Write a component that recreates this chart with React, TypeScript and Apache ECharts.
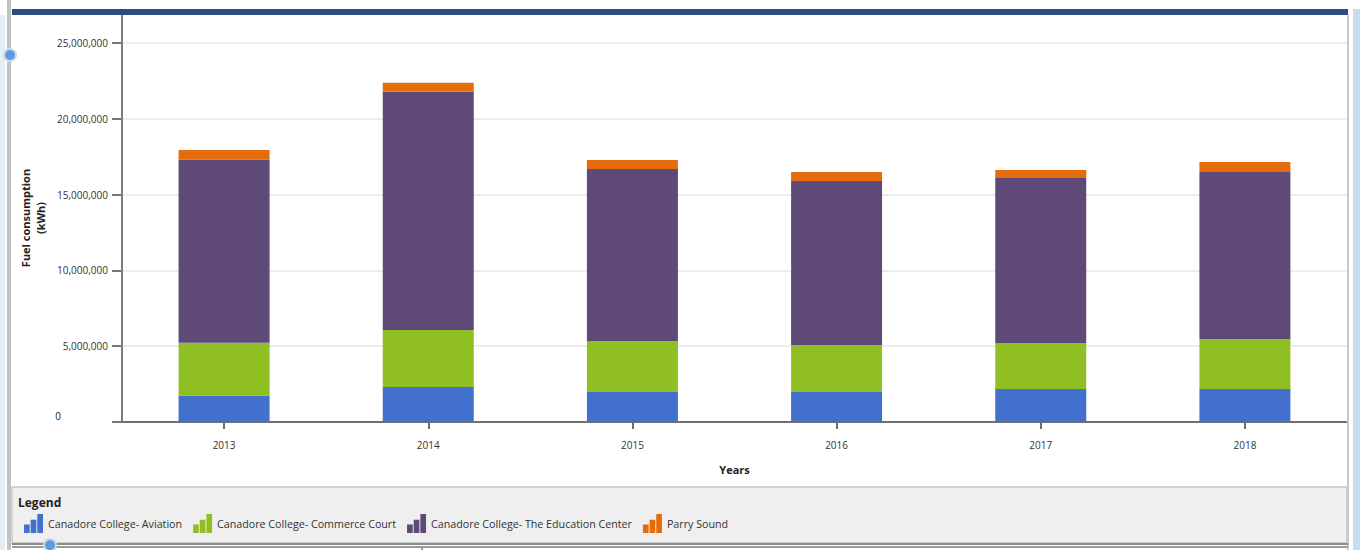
import React, { useEffect, useRef } from "react";
import * as echarts from "echarts";

const years = ["2013", "2014", "2015", "2016", "2017", "2018"];
const aviation = [1730000, 2310000, 1980000, 1980000, 2180000, 2180000];
const commerceCourt = [3500000, 3760000, 3360000, 3100000, 3030000, 3290000];
const educationCenter = [12080000, 15720000, 11350000, 10820000, 10880000, 11020000];
const parrySound = [630000, 590000, 590000, 590000, 530000, 660000];

const seriesNames = [
  "Canadore College- Aviation",
  "Canadore College- Commerce Court",
  "Canadore College- The Education Center",
  "Parry Sound",
];
const seriesColors = ["#4270cd", "#90bf24", "#5e4978", "#e46c0a"];

const FONT = "'Open Sans', 'Noto Sans', sans-serif";
const barIcon = "path://M0,11 h6 v9 h-6 Z M7,6 h6 v14 h-6 Z M14,0 h6 v20 h-6 Z";

export default function App() {
  const ref = useRef<HTMLDivElement>(null);
  useEffect(() => {
    document.body.style.margin = "0";
    const chart = echarts.init(ref.current!, null, { renderer: "svg" });
    const dataSets = [aviation, commerceCourt, educationCenter, parrySound];
    chart.setOption({
      animation: false,
      backgroundColor: "#ffffff",
      textStyle: { fontFamily: FONT },
      grid: { left: 122, right: 13, top: 43, bottom: 128, containLabel: false },
      legend: {
        left: 24,
        top: 514,
        padding: 0,
        itemWidth: 19,
        itemHeight: 19,
        itemGap: 11,
        icon: barIcon,
        z: 10,
        textStyle: { fontSize: 10.7, color: "#333", fontFamily: FONT },
        data: seriesNames,
      },
      xAxis: {
        type: "category",
        data: years,
        name: "Years",
        nameLocation: "middle",
        nameGap: 42,
        nameTextStyle: { fontWeight: "bold", fontSize: 11, color: "#222", fontFamily: FONT },
        axisLine: { show: true, lineStyle: { color: "#707070", width: 2 } },
        axisTick: { show: true, alignWithLabel: true, length: 7, lineStyle: { color: "#707070", width: 2 } },
        axisLabel: { fontSize: 10, color: "#333", margin: 18, fontFamily: FONT },
      },
      yAxis: {
        type: "value",
        min: 0,
        max: 25000000,
        interval: 5000000,
        axisLine: { show: false },
        axisTick: { show: true, length: 10, lineStyle: { color: "#777", width: 2 } },
        splitLine: { show: true, lineStyle: { color: "#e6e6e6", width: 1.5 } },
        axisLabel: {
          fontSize: 10,
          color: "#333333",
          margin: 14,
          fontFamily: FONT,
          formatter: (v: number) =>
            v === 0 ? "{z|0}" : v.toLocaleString("en-US"),
          rich: { z: { fontSize: 10, color: "#222222", padding: [0, 47, 12, 0], fontFamily: FONT } },
        },
      },
      series: dataSets.map((d, i) => ({
        name: seriesNames[i],
        type: "bar",
        stack: "total",
        barWidth: 91,
        data: d,
        itemStyle: { color: seriesColors[i] },
        z: 3,
      })),
      graphic: [
        { type: "rect", z: 5, shape: { x: 12, y: 9, width: 1336, height: 6 }, style: { fill: "#2f4a7e" } },
        { type: "rect", z: 5, shape: { x: 0, y: 15, width: 5, height: 535 }, style: { fill: "#e6edf5" } },
        { type: "rect", z: 5, shape: { x: 7, y: 0, width: 4, height: 550 }, style: { fill: "#c2c2c2" } },
        { type: "circle", z: 6, shape: { cx: 10, cy: 55, r: 6 }, style: { fill: "#5b9be3", stroke: "#d0d8e0", lineWidth: 2 } },
        { type: "rect", z: 5, shape: { x: 1347, y: 15, width: 2, height: 535 }, style: { fill: "#c8c8c8" } },
        { type: "rect", z: 5, shape: { x: 1353, y: 9, width: 7, height: 541 }, style: { fill: "#c7dcee" } },
        { type: "line", z: 5, shape: { x1: 122, y1: 15, x2: 122, y2: 423 }, style: { stroke: "#7a7a7a", lineWidth: 2 } },
        {
          type: "text",
          z: 5,
          x: 33,
          y: 218,
          rotation: Math.PI / 2,
          style: {
            text: "Fuel consumption\n(kWh)",
            fontFamily: FONT,
            fontSize: 11,
            fontWeight: "bold",
            fill: "#222",
            align: "center",
            verticalAlign: "middle",
            lineHeight: 15,
          },
        },
        { type: "rect", z: 1, shape: { x: 12, y: 487, width: 1335, height: 56 }, style: { fill: "#efefef", stroke: "#c6c6c6", lineWidth: 1.5 } },
        {
          type: "text",
          z: 5,
          x: 18,
          y: 502,
          style: { text: "Legend", fontFamily: FONT, fontSize: 12, fontWeight: "bold", fill: "#222", verticalAlign: "middle" },
        },
        { type: "rect", z: 5, shape: { x: 12, y: 543, width: 1336, height: 2 }, style: { fill: "#8a8a8a" } },
        { type: "rect", z: 5, shape: { x: 12, y: 546, width: 1336, height: 2 }, style: { fill: "#9a9a9a" } },
        { type: "rect", z: 5, shape: { x: 421, y: 546, width: 2, height: 4 }, style: { fill: "#9a9a9a" } },
        { type: "circle", z: 6, shape: { cx: 50, cy: 545, r: 6 }, style: { fill: "#5b9be3", stroke: "#d0d8e0", lineWidth: 2 } },
      ],
    });
    return () => chart.dispose();
  }, []);
  return <div ref={ref} style={{ width: 1360, height: 550 }} />;
}
